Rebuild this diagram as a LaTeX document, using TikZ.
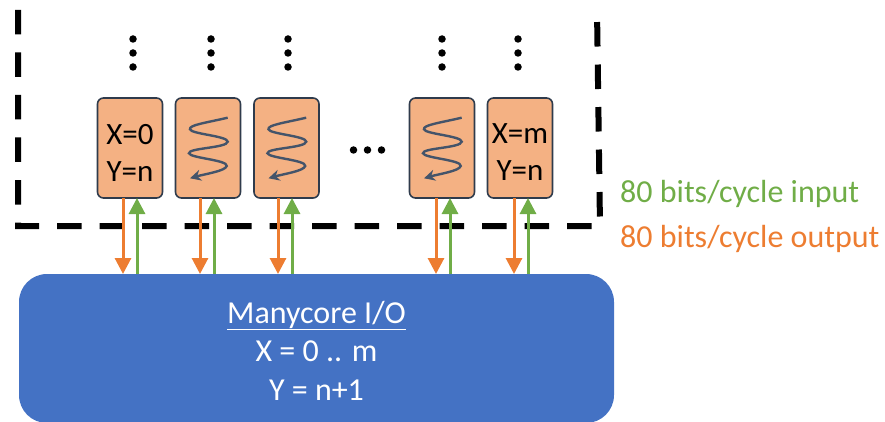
\documentclass[tikz,border=0pt]{standalone}
\usepackage{fontspec}
\setmainfont{Carlito}
\usetikzlibrary{arrows.meta}
\definecolor{boxfill}{HTML}{F4B183}
\definecolor{slate}{HTML}{44546A}
\definecolor{edge}{HTML}{2F3B4C}
\definecolor{orangeL}{HTML}{ED7D31}
\definecolor{greenL}{HTML}{70AD47}
\definecolor{blueF}{HTML}{4472C4}
\tikzset{
 core/.style={draw=edge,line width=1.6pt,fill=boxfill,rounded corners=6pt,minimum width=65pt,minimum height=100pt,outer sep=0pt,inner sep=0pt},
 coretext/.style={inner sep=0pt,align=center,font=\fontsize{31}{37}\selectfont},
 ioblock/.style={fill=blueF,rounded corners=28pt,minimum width=595pt,minimum height=149pt,outer sep=0pt,inner sep=0pt},
 iotext/.style={inner sep=0pt,text=white,align=center,font=\fontsize{32}{38.5}\selectfont},
 outarrow/.style={draw=orangeL,line width=3pt,-{Triangle[length=16pt,width=16pt]}},
 inarrow/.style={draw=greenL,line width=3pt,-{Triangle[length=16pt,width=16pt]}},
 squiggle/.style={draw=slate,line width=2.4pt,-{Stealth[length=11pt,width=11pt]}},
 boundary/.style={draw=black,line width=6pt,dash pattern=on 24.5pt off 18pt},
 dotmark/.style={circle,fill=black,inner sep=0pt,minimum size=7.5pt},
 rate/.style={anchor=west,inner sep=0pt,font=\fontsize{32}{38}\selectfont},
}
\begin{document}
\begin{tikzpicture}[x=1pt,y=-1pt]
\useasboundingbox (0,0) rectangle (885,422);
\begin{scope}
\clip (0,0) rectangle (885,422);
\draw[boundary] (18,10) -- (18,226) -- (600,226) -- (597,10);
\node[ioblock] (io) at (316.5,348.5) {};
\end{scope}
\node[iotext] (iolabel) at (316.5,350.5) {\underline{Manycore I/O}\\X = 0 .. m\\Y = n+1};
\node[core] (b1) at (130,148) {};
\node[coretext] (t1) at (130,152.5) {X=0\\Y=n};
\node[core] (b2) at (208,148) {};
\node[core] (b3) at (286.5,148) {};
\node[core] (b4) at (442,148) {};
\node[core] (b5) at (520,148) {};
\node[coretext] (t5) at (520,152.5) {X=m\\Y=n};
\foreach \b/\dx in {b2/175,b3/253.5,b4/409}{
 \begin{scope}[shift={(\dx,98)}]
 \draw[squiggle] (52.7,19.7) .. controls (30,25) and (14,27) .. (15,31.3)
   .. controls (16,36) and (53,38) .. (52.7,43.7)
   .. controls (52,50) and (13,50) .. (14,55.3)
   .. controls (15,60) and (53,62) .. (51.7,68)
   .. controls (50.5,73) and (30,76) .. (15,80.3);
 \end{scope}
}
\foreach \b/\o/\g in {b1/-7/7,b2/-8/6,b3/-8.5/5.5,b4/-6/8,b5/-6/8}{
 \draw[outarrow] ([xshift=\o pt]\b.south) -- ([xshift=\o pt]\b.south |- io.north);
 \draw[inarrow] ([xshift=\g pt]\b.south |- io.north) -- ([xshift=\g pt]\b.south);
}
\foreach \n/\x in {a/133,b/211,c/288,d/442,e/518}{
 \node[dotmark] (\n1) at (\x,39) {};
 \node[dotmark] (\n2) at (\x,53) {};
 \node[dotmark] (\n3) at (\x,67) {};
}
\node[dotmark] (m1) at (353.5,150) {};
\node[dotmark] (m2) at (367.5,150) {};
\node[dotmark] (m3) at (381.5,150) {};
\node[rate,text=greenL] (inlabel) at (620,194) {80 bits/cycle input};
\node[rate,text=orangeL] (outlabel) at (620,239) {80 bits/cycle output};
\end{tikzpicture}
\end{document}
